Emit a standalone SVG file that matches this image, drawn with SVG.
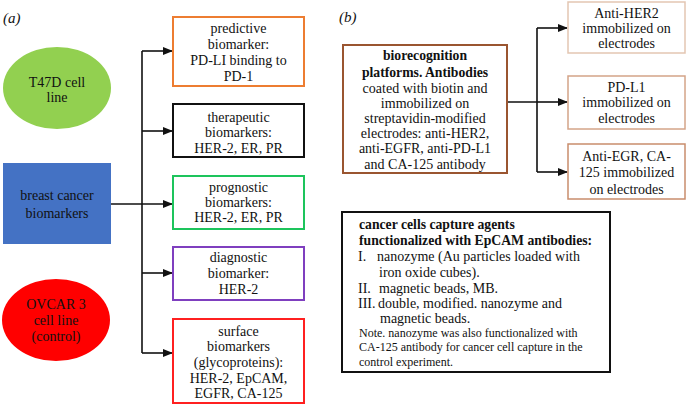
<svg xmlns="http://www.w3.org/2000/svg" width="687" height="406" viewBox="0 0 687 406">
<defs>
<marker id="ah" markerWidth="10" markerHeight="8" refX="9" refY="4" orient="auto" markerUnits="userSpaceOnUse">
<path d="M0,0 L10,4 L0,8 Z" fill="#111"/>
</marker>
<style>
text{font-family:"Liberation Serif","Times New Roman",serif;font-size:14px;fill:#111;}
.c{text-anchor:middle;}
.b{font-weight:bold;font-size:13.7px;}
.s{font-size:12px;}
.lbl{font-style:italic;font-size:15px;}
.box{fill:#fff;stroke-width:2;}
.ln{fill:none;stroke:#111;stroke-width:1.6;}
</style>
</defs>
<rect width="687" height="406" fill="#fff"/>
<text class="lbl" x="3" y="23">(a)</text>
<text class="lbl" x="339" y="22">(b)</text>

<g id="connectors">
<path class="ln" d="M142,51 V353"/>
<path class="ln" d="M142,51 H172" marker-end="url(#ah)"/>
<path class="ln" d="M142,131 H172" marker-end="url(#ah)"/>
<path class="ln" d="M111,204 H172" marker-end="url(#ah)"/>
<path class="ln" d="M142,273 H172" marker-end="url(#ah)"/>
<path class="ln" d="M142,353 H172" marker-end="url(#ah)"/>
<path class="ln" d="M507,102 H537 M537,28 V172"/>
<path class="ln" d="M537,28 H567" marker-end="url(#ah)"/>
<path class="ln" d="M537,102 H567" marker-end="url(#ah)"/>
<path class="ln" d="M537,172 H567" marker-end="url(#ah)"/>
</g>

<g id="t47d">
<ellipse cx="57" cy="88" rx="54" ry="41" fill="#92D050"/>
<text class="c" x="57" y="87">T47D cell</text>
<text class="c" x="57" y="102">line</text>
</g>
<g id="breast">
<rect x="3" y="163" width="108" height="81" fill="#4472C4"/>
<text class="c" x="57" y="200">breast cancer</text>
<text class="c" x="57" y="218">biomarkers</text>
</g>
<g id="ovcar">
<ellipse cx="56" cy="320" rx="54" ry="41" fill="#FF0000"/>
<text class="c" x="56" y="309">OVCAR 3</text>
<text class="c" x="56" y="325">cell line</text>
<text class="c" x="56" y="341">(control)</text>
</g>

<g id="predictive">
<rect class="box" x="173" y="17" width="131" height="69" stroke="#ED7D31"/>
<text class="c" x="238.5" y="33">predictive</text>
<text class="c" x="238.5" y="49">biomarker:</text>
<text class="c" x="238.5" y="65">PD-LI binding to</text>
<text class="c" x="238.5" y="81">PD-1</text>
</g>
<g id="therapeutic">
<rect class="box" x="173" y="104" width="131" height="53" stroke="#111"/>
<text class="c" x="238.5" y="122">therapeutic</text>
<text class="c" x="238.5" y="137">biomarkers:</text>
<text class="c" x="238.5" y="153">HER-2, ER, PR</text>
</g>
<g id="prognostic">
<rect class="box" x="173" y="176" width="131" height="53" stroke="#1DC45C"/>
<text class="c" x="238.5" y="192">prognostic</text>
<text class="c" x="238.5" y="207">biomarkers:</text>
<text class="c" x="238.5" y="222">HER-2, ER, PR</text>
</g>
<g id="diagnostic">
<rect class="box" x="173" y="247" width="131" height="53" stroke="#7F3FBF"/>
<text class="c" x="238.5" y="262">diagnostic</text>
<text class="c" x="238.5" y="278">biomarker:</text>
<text class="c" x="238.5" y="294">HER-2</text>
</g>
<g id="surface">
<rect class="box" x="173" y="319" width="131" height="84" stroke="#FF2020"/>
<text class="c" x="238.5" y="336">surface</text>
<text class="c" x="238.5" y="351">biomarkers</text>
<text class="c" x="238.5" y="367">(glycoproteins):</text>
<text class="c" x="238.5" y="383">HER-2, EpCAM,</text>
<text class="c" x="238.5" y="398">EGFR, CA-125</text>
</g>

<g id="biorecognition">
<rect class="box" x="343" y="45" width="164" height="128" stroke="#9A5530" stroke-width="2.2"/>
<text class="c b" x="425" y="60">biorecognition</text>
<text class="c b" x="425" y="77">platforms. Antibodies</text>
<text class="c" x="425" y="93">coated with biotin and</text>
<text class="c" x="425" y="108">immobilized on</text>
<text class="c" x="425" y="123">streptavidin-modified</text>
<text class="c" x="425" y="138">electrodes: anti-HER2,</text>
<text class="c" x="425" y="153">anti-EGFR, anti-PD-L1</text>
<text class="c" x="425" y="169">and CA-125 antibody</text>
</g>
<g id="her2">
<rect x="568" y="2" width="117" height="51" fill="#fff" stroke="#E3C6B2" stroke-width="1.5"/>
<text class="c" x="626.5" y="18">Anti-HER2</text>
<text class="c" x="626.5" y="33">immobilized on</text>
<text class="c" x="626.5" y="48">electrodes</text>
</g>
<g id="pdl1">
<rect x="568" y="76" width="117" height="53" fill="#fff" stroke="#D4A488" stroke-width="1.5"/>
<text class="c" x="626.5" y="92">PD-L1</text>
<text class="c" x="626.5" y="107">immobilized on</text>
<text class="c" x="626.5" y="123">electrodes</text>
</g>
<g id="egr">
<rect x="568" y="144" width="117" height="55" fill="#fff" stroke="#C98D6C" stroke-width="1.5"/>
<text class="c" x="626.5" y="161">Anti-EGR, CA-</text>
<text class="c" x="626.5" y="177">125 immobilized</text>
<text class="c" x="626.5" y="194">on electrodes</text>
</g>

<g id="capture">
<rect class="box" x="342" y="212" width="268" height="160" stroke="#111"/>
<text class="b" x="359" y="229">cancer cells capture agents</text>
<text class="b" x="359" y="245">functionalized with EpCAM antibodies:</text>
<text x="358" y="261">I.</text>
<text x="377" y="261">nanozyme (Au particles loaded with</text>
<text x="379" y="277">iron oxide cubes).</text>
<text x="358" y="293">II.</text>
<text x="379" y="293">magnetic beads, MB.</text>
<text x="358" y="308">III.</text>
<text x="378" y="308">double, modified. nanozyme and</text>
<text x="380" y="323">magnetic beads.</text>
<text class="s" x="359" y="337">Note. nanozyme was also functionalized with</text>
<text class="s" x="359" y="351">CA-125 antibody for cancer cell capture in the</text>
<text class="s" x="359" y="366">control experiment.</text>
</g>
</svg>
